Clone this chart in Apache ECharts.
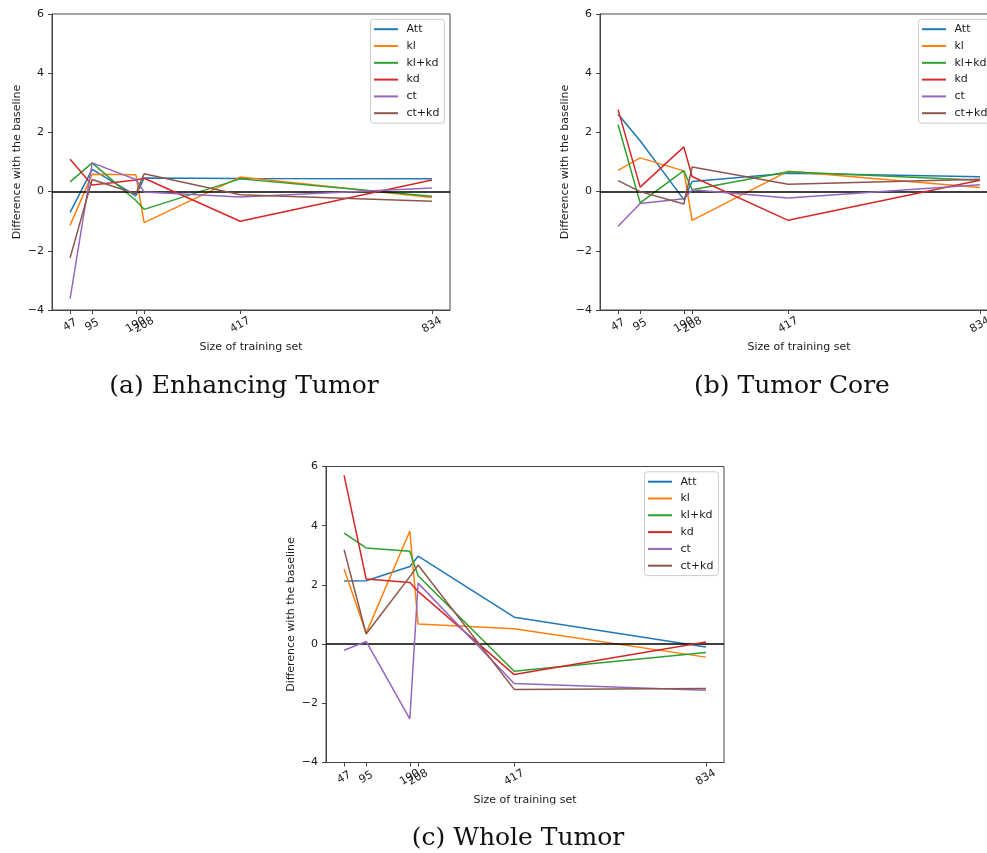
<!DOCTYPE html>
<html>
<head>
<meta charset="utf-8">
<script src="https://cdn.jsdelivr.net/npm/echarts@6/dist/echarts.min.js"></script>
<style>
  html, body { margin: 0; padding: 0; background: #fff; overflow: hidden; width: 987px; height: 853px; }
  #chart { width: 1010px; height: 853px; }
</style>
</head>
<body>
<div id="chart"></div>
<script>
// ---- data ----
const sizes = [47, 95, 190, 208, 417, 834];
const seriesNames = ['Att', 'kl', 'kl+kd', 'kd', 'ct', 'ct+kd'];
const yTicks = [-4, -2, 0, 2, 4, 6];
const captions = ['(a) Enhancing Tumor', '(b) Tumor Core', '(c) Whole Tumor'];

// (a) Enhancing Tumor
const etAtt  = [-0.70, 0.75, -0.14, 0.46, 0.44, 0.43];
const etKl   = [-1.14, 0.59, 0.57, -1.05, 0.49, -0.20];
const etKlKd = [0.33, 0.97, -0.30, -0.60, 0.43, -0.16];
const etKd   = [1.09, 0.22, 0.39, 0.45, -1.00, 0.39];
const etCt   = [-3.62, 0.97, 0.41, -0.01, -0.18, 0.12];
const etCtKd = [-2.24, 0.41, -0.07, 0.60, -0.11, -0.33];

// (b) Tumor Core
const tcAtt  = [2.61, 1.72, -0.27, 0.34, 0.62, 0.50];
const tcKl   = [0.72, 1.14, 0.70, -0.97, 0.69, 0.14];
const tcKlKd = [2.26, -0.38, 0.71, 0.06, 0.67, 0.38];
const tcKd   = [2.77, 0.15, 1.51, 0.51, -0.97, 0.38];
const tcCt   = [-1.17, -0.40, -0.24, 0.06, -0.22, 0.23];
const tcCtKd = [0.37, 0.00, -0.42, 0.83, 0.25, 0.42];

// (c) Whole Tumor
const wtAtt  = [2.13, 2.14, 2.62, 2.97, 0.91, -0.10];
const wtKl   = [2.54, 0.37, 3.82, 0.68, 0.52, -0.44];
const wtKlKd = [3.75, 3.25, 3.14, 2.31, -0.92, -0.28];
const wtKd   = [5.70, 2.20, 2.08, 1.78, -1.03, 0.07];
const wtCt   = [-0.21, 0.09, -2.53, 2.06, -1.33, -1.56];
const wtCtKd = [3.19, 0.34, 2.28, 2.67, -1.53, -1.50];

const plots = [
  [etAtt, etKl, etKlKd, etKd, etCt, etCtKd],
  [tcAtt, tcKl, tcKlKd, tcKd, tcCt, tcCtKd],
  [wtAtt, wtKl, wtKlKd, wtKd, wtCt, wtCtKd]
];

// ---- styling / layout ----
const colors = ['#1f77b4', '#ff7f0e', '#2ca02c', '#d62728', '#9467bd', '#8c564b'];
const grids = [
  { left: 52, top: 14, width: 398, height: 296 },
  { left: 600, top: 14, width: 398, height: 296 },
  { left: 326, top: 466.5, width: 398, height: 296 }
];
const captionPos = [[244, 386], [792, 386], [518, 838]];
const xMin = 47 - 0.05 * (834 - 47);
const xMax = 834 + 0.05 * (834 - 47);
const FONT = 'DejaVu Sans';
const TXT = '#1a1a1a';
const minus = v => String(v).replace('-', '\u2212');

const option = {
  animation: false,
  backgroundColor: '#fff',
  color: colors,
  grid: grids.map(g => Object.assign({ show: true, borderColor: '#444', borderWidth: 1, backgroundColor: 'transparent' }, g)),
  xAxis: grids.map((g, i) => ({
    type: 'value', gridIndex: i, min: xMin, max: xMax,
    name: 'Size of training set', nameLocation: 'middle', nameGap: 32,
    nameTextStyle: { fontFamily: FONT, fontSize: 11, color: TXT, verticalAlign: 'top' },
    axisLine: { show: true, onZero: false, lineStyle: { color: '#444', width: 1 } },
    axisTick: { show: true, length: 4, customValues: sizes, lineStyle: { color: '#444' } },
    axisLabel: {
      customValues: sizes, rotate: 30, margin: 15, align: 'center', verticalAlign: 'middle',
      fontFamily: FONT, fontSize: 11, color: TXT, formatter: v => String(v)
    },
    splitLine: { show: false }
  })),
  yAxis: grids.map((g, i) => ({
    type: 'value', gridIndex: i, min: -4, max: 6, interval: 2,
    name: 'Difference with the baseline', nameLocation: 'middle', nameGap: 29,
    nameTextStyle: { fontFamily: FONT, fontSize: 11, color: TXT },
    axisLine: { show: true, onZero: false, lineStyle: { color: '#444', width: 1 } },
    axisTick: { show: true, length: 4, lineStyle: { color: '#444' } },
    axisLabel: { margin: 8, fontFamily: FONT, fontSize: 11, color: TXT, formatter: minus, customValues: yTicks },
    splitLine: { show: false }
  })),
  legend: grids.map(g => ({
    orient: 'vertical',
    left: g.left + 318.5, top: g.top + 5.3,
    itemWidth: 24, itemHeight: 2, itemGap: 0,
    padding: [1.5, 5, 1.5, 3.5],
    borderColor: '#cccccc', borderWidth: 1, borderRadius: 3,
    backgroundColor: 'rgba(255,255,255,0.8)',
    textStyle: { fontFamily: FONT, fontSize: 11, color: TXT, lineHeight: 16.8, padding: [0, 0, 0, 3.5] },
    data: seriesNames.map(n => ({ name: n, icon: 'rect' }))
  })),
  series: [],
  graphic: []
};

plots.forEach((plotArrs, gi) => {
  plotArrs.forEach((arr, si) => {
    const s = {
      type: 'line', name: seriesNames[si], xAxisIndex: gi, yAxisIndex: gi,
      data: sizes.map((x, k) => [x, arr[k]]),
      showSymbol: false, symbol: 'none',
      lineStyle: { width: 1.5, color: colors[si] },
      itemStyle: { color: colors[si] },
      emphasis: { disabled: true },
      z: 2 + si
    };
    if (si === plotArrs.length - 1) {
      s.markLine = {
        silent: true, symbol: ['none', 'none'], label: { show: false },
        lineStyle: { color: '#000', width: 1.5, type: 'solid' },
        data: [{ yAxis: 0 }]
      };
    }
    option.series.push(s);
  });
});

// mimic the cropped bottom of the axis titles
option.graphic.push(
  { type: 'rect', z: 100, shape: { x: 0, y: 352, width: 470, height: 14 }, style: { fill: '#fff' } },
  { type: 'rect', z: 100, shape: { x: 560, y: 352, width: 450, height: 14 }, style: { fill: '#fff' } },
  { type: 'rect', z: 100, shape: { x: 270, y: 804.5, width: 470, height: 14 }, style: { fill: '#fff' } }
);
captions.forEach((c, i) => {
  option.graphic.push({
    type: 'text', z: 101,
    style: {
      text: c, x: captionPos[i][0], y: captionPos[i][1],
      textAlign: 'center', textVerticalAlign: 'middle',
      font: '25px "DejaVu Serif"', fill: '#111'
    }
  });
});

const chart = echarts.init(document.getElementById('chart'), null, { renderer: 'canvas' });
chart.setOption(option);
</script>
</body>
</html>
